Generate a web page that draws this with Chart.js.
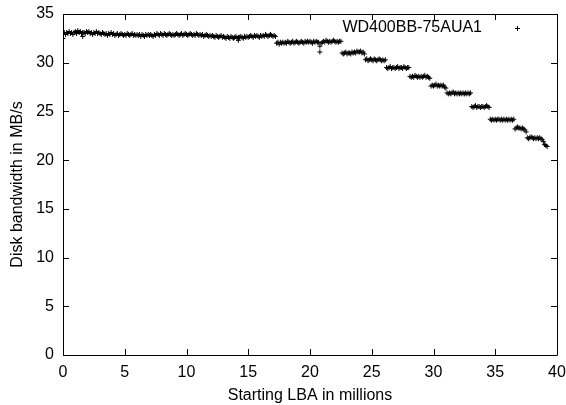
<!DOCTYPE html>
<html>
<head>
<meta charset="utf-8">
<script src="https://cdn.jsdelivr.net/npm/chart.js@4"></script>
<style>
html,body{margin:0;padding:0;background:#fff;}
#wrap{width:566px;height:405px;position:relative;}
</style>
</head>
<body>
<div id="wrap"><canvas id="c" width="566" height="405"></canvas></div>
<script>
const seriesName = "WD400BB-75AUA1";
const xTitle = "Starting LBA in millions";
const yTitle = "Disk bandwidth in MB/s";
const xTicks = [0,5,10,15,20,25,30,35,40];
const yTicks = [0,5,10,15,20,25,30,35];

const lba = [
0.0,0.0,0.1,0.2,0.3,0.4,0.5,0.6,0.7,0.8,0.9,
1.0,1.1,1.2,1.3,1.4,1.5,1.6,1.6,1.7,1.8,1.9,
2.0,2.1,2.2,2.3,2.4,2.5,2.6,2.7,2.8,2.9,
3.0,3.1,3.2,3.3,3.4,3.5,3.6,3.7,3.8,3.9,
4.0,4.1,4.2,4.3,4.4,4.5,4.6,4.7,4.8,4.9,
5.0,5.1,5.2,5.3,5.4,5.5,5.6,5.7,5.8,5.9,
6.0,6.1,6.2,6.3,6.4,6.5,6.6,6.7,6.8,6.9,
7.0,7.1,7.2,7.3,7.4,7.5,7.6,7.7,7.8,7.9,
8.0,8.1,8.2,8.3,8.4,8.5,8.6,8.7,8.8,8.9,
9.0,9.1,9.2,9.3,9.4,9.5,9.6,9.7,9.8,9.9,
10.0,10.1,10.2,10.3,10.4,10.5,10.6,10.7,10.8,10.9,
11.0,11.1,11.2,11.3,11.4,11.5,11.6,11.7,11.8,11.9,
12.0,12.1,12.2,12.3,12.4,12.5,12.6,12.7,12.8,12.9,
13.0,13.1,13.2,13.3,13.4,13.5,13.6,13.7,13.8,13.9,
14.0,14.1,14.2,14.2,14.3,14.4,14.5,14.6,14.7,14.8,14.9,
15.0,15.1,15.2,15.3,15.4,15.5,15.6,15.7,15.8,15.9,
16.0,16.1,16.2,16.3,16.4,16.5,16.6,16.7,16.8,16.9,
17.0,17.1,17.2,17.3,17.4,17.5,17.6,17.7,17.8,17.9,
18.0,18.1,18.2,18.3,18.4,18.5,18.6,18.7,18.8,18.9,
19.0,19.1,19.2,19.3,19.4,19.5,19.6,19.7,19.8,19.9,
20.0,20.1,20.2,20.3,20.4,20.5,20.6,20.7,20.8,20.8,20.9,
21.0,21.1,21.2,21.3,21.4,21.5,21.6,21.7,21.8,21.9,
22.0,22.1,22.2,22.3,22.4,22.5,22.6,22.7,22.8,22.9,
23.0,23.1,23.2,23.3,23.4,23.5,23.6,23.7,23.8,23.9,
24.0,24.1,24.2,24.3,24.4,24.5,24.6,24.7,24.8,24.9,
25.0,25.1,25.2,25.3,25.4,25.5,25.6,25.7,25.8,25.9,
26.0,26.1,26.2,26.3,26.4,26.5,26.6,26.7,26.8,26.9,
27.0,27.1,27.2,27.3,27.4,27.5,27.6,27.7,27.8,27.9,
28.0,28.1,28.2,28.3,28.4,28.5,28.6,28.7,28.8,28.9,
29.0,29.1,29.2,29.3,29.4,29.5,29.6,29.7,29.8,29.9,
30.0,30.1,30.2,30.3,30.4,30.5,30.6,30.7,30.8,30.9,
31.0,31.1,31.2,31.3,31.4,31.5,31.6,31.7,31.8,31.9,
32.0,32.1,32.2,32.3,32.4,32.5,32.6,32.7,32.8,32.9,
33.0,33.1,33.2,33.3,33.4,33.5,33.6,33.7,33.8,33.9,
34.0,34.1,34.2,34.3,34.4,34.5,34.6,34.7,34.8,34.9,
35.0,35.1,35.2,35.3,35.4,35.5,35.6,35.7,35.8,35.9,
36.0,36.1,36.2,36.3,36.4,36.5,36.6,36.7,36.8,36.9,
37.0,37.1,37.2,37.3,37.4,37.5,37.6,37.7,37.8,37.9,
38.0,38.1,38.2,38.3,38.4,38.5,38.6,38.7,38.8,38.9,
39.0,39.1,39.2
];
const bandwidth = [
33.0,32.5,33.1,32.9,33.1,33.0,33.2,33.0,33.1,32.9,33.1,
33.2,33.0,33.3,33.1,33.2,33.0,33.1,32.7,33.1,33.0,33.2,
33.1,33.2,33.0,33.1,32.9,33.1,33.0,33.2,33.0,33.1,
33.0,32.9,33.1,33.0,32.9,33.0,32.8,33.0,32.9,33.1,
32.9,33.0,32.8,32.9,33.0,32.8,32.9,33.0,32.9,32.8,
32.9,32.8,33.0,32.9,32.8,32.9,33.0,32.8,32.9,32.8,
32.9,32.8,32.9,32.7,32.9,32.8,32.7,32.9,32.8,32.9,
32.8,32.9,32.8,32.7,32.9,32.8,33.0,32.9,32.8,33.0,
32.9,32.8,33.0,32.9,32.8,32.9,33.0,32.9,32.8,32.9,
32.8,32.9,33.0,32.9,32.8,32.9,33.0,32.8,32.9,33.0,
32.9,32.8,32.9,33.0,32.9,32.8,32.9,32.8,33.0,32.9,
32.8,32.9,32.8,32.9,32.7,32.8,32.9,32.8,32.7,32.8,
32.7,32.8,32.7,32.6,32.8,32.7,32.6,32.7,32.8,32.6,
32.7,32.6,32.5,32.7,32.6,32.5,32.7,32.6,32.5,32.6,
32.7,32.5,32.6,32.3,32.6,32.7,32.6,32.5,32.7,32.6,32.7,
32.6,32.7,32.8,32.7,32.6,32.8,32.7,32.8,32.7,32.6,
32.8,32.7,32.8,32.7,32.9,32.8,32.7,32.8,32.9,32.8,
32.7,32.8,32.7,32.0,32.1,31.9,32.1,32.0,32.1,32.0,
32.1,32.0,32.2,32.1,32.0,32.1,32.2,32.0,32.1,32.2,
32.1,32.0,32.1,32.2,32.1,32.0,32.2,32.1,32.2,32.1,
32.2,32.1,32.0,32.2,32.1,32.2,32.1,32.1,31.7,31.1,32.0,
32.1,32.2,32.1,32.3,32.2,32.1,32.2,32.1,32.2,32.3,
32.2,32.1,32.2,32.1,32.2,32.2,31.0,30.9,31.0,31.1,
30.9,31.0,31.0,30.9,31.1,31.0,31.1,31.0,31.2,31.1,
31.1,31.2,31.0,31.1,30.9,30.3,30.4,30.2,30.3,30.4,
30.3,30.2,30.4,30.3,30.2,30.3,30.4,30.3,30.2,30.3,
30.2,30.3,29.5,29.4,29.5,29.6,29.4,29.5,29.5,29.4,
29.5,29.6,29.4,29.5,29.5,29.4,29.6,29.5,29.4,29.5,
29.5,28.6,28.5,28.6,28.5,28.7,28.6,28.5,28.6,28.5,
28.6,28.5,28.6,28.7,28.5,28.6,28.5,28.4,27.6,27.7,
27.6,27.7,27.8,27.6,27.7,27.6,27.7,27.6,27.7,27.5,
27.4,26.9,26.8,26.9,26.8,26.9,27.0,26.8,26.9,26.8,
26.9,26.8,26.9,26.8,26.9,26.8,26.9,26.8,26.9,26.8,
26.9,25.5,25.4,25.5,25.6,25.4,25.5,25.5,25.4,25.5,
25.5,25.4,25.5,25.6,25.5,25.4,24.2,24.1,24.2,24.1,
24.2,24.1,24.2,24.2,24.1,24.2,24.1,24.2,24.1,24.2,
24.1,24.2,24.1,24.2,24.1,24.2,23.2,23.3,23.4,23.3,
23.3,23.2,23.3,23.2,23.1,22.9,22.3,22.2,22.3,22.4,
22.3,22.2,22.3,22.2,22.3,22.2,22.3,22.2,22.1,21.9,
21.6,21.5,21.4
];

const FONT = "'Liberation Sans', Arial, sans-serif";
const FS = 16;
const points = lba.map((x, i) => ({x: x, y: bandwidth[i]}));

const frame = {
  id: 'frame',
  afterDraw(chart) {
    const ctx = chart.ctx, a = chart.chartArea;
    const xs = chart.scales.x, ys = chart.scales.y;
    ctx.save();
    ctx.strokeStyle = '#000';
    ctx.lineWidth = 1;
    ctx.beginPath();
    ctx.rect(Math.round(a.left) + 0.5, Math.round(a.top) + 0.5, Math.round(a.right - a.left), Math.round(a.bottom - a.top));
    ctx.stroke();
    const L = 6;
    ctx.beginPath();
    xTicks.forEach(v => {
      const px = Math.round(xs.getPixelForValue(v)) + 0.5;
      ctx.moveTo(px, a.bottom); ctx.lineTo(px, a.bottom - L);
      ctx.moveTo(px, a.top); ctx.lineTo(px, a.top + L);
    });
    yTicks.forEach(v => {
      const py = Math.round(ys.getPixelForValue(v)) + 0.5;
      ctx.moveTo(a.left, py); ctx.lineTo(a.left + L, py);
      ctx.moveTo(a.right, py); ctx.lineTo(a.right - L, py);
    });
    ctx.stroke();
    // key
    ctx.fillStyle = '#000';
    ctx.font = FS + 'px ' + FONT;
    ctx.textAlign = 'right';
    ctx.textBaseline = 'middle';
    ctx.fillText(seriesName, 482, 28);
    ctx.beginPath();
    ctx.moveTo(515, 28.5); ctx.lineTo(520, 28.5);
    ctx.moveTo(517.5, 26); ctx.lineTo(517.5, 31);
    ctx.stroke();
    ctx.restore();
  }
};

new Chart(document.getElementById('c'), {
  type: 'scatter',
  data: {
    datasets: [{
      label: seriesName,
      data: points,
      pointStyle: 'cross',
      pointRadius: 2.5,
      pointBorderWidth: 1,
      borderColor: '#000',
      backgroundColor: '#000'
    }]
  },
  options: {
    responsive: false,
    animation: false,
    events: [],
    layout: { padding: { left: 0, top: 14, right: 9, bottom: 0 } },
    plugins: { legend: { display: false }, tooltip: { enabled: false } },
    scales: {
      x: {
        type: 'linear', min: 0, max: 40,
        afterFit: s => { s.height = 50; s.paddingLeft = 0; s.paddingRight = 0; },
        afterBuildTicks: s => { s.ticks = xTicks.map(v => ({value: v})); },
        grid: { display: false, drawTicks: false },
        border: { display: false },
        ticks: { color: '#000', font: { family: FONT, size: FS }, padding: 8, maxRotation: 0 },
        title: { display: true, text: xTitle, color: '#000', font: { family: FONT, size: FS }, padding: { top: 3, bottom: 0 } }
      },
      y: {
        type: 'linear', min: 0, max: 35,
        afterFit: s => { s.width = 63; s.paddingTop = 0; s.paddingBottom = 0; },
        afterBuildTicks: s => { s.ticks = yTicks.map(v => ({value: v})); },
        grid: { display: false, drawTicks: false },
        border: { display: false },
        ticks: { color: '#000', font: { family: FONT, size: FS }, padding: 9 },
        title: { display: true, text: yTitle, color: '#000', font: { family: FONT, size: FS }, padding: { top: 8, bottom: 0 } }
      }
    }
  },
  plugins: [frame]
});
</script>
</body>
</html>
